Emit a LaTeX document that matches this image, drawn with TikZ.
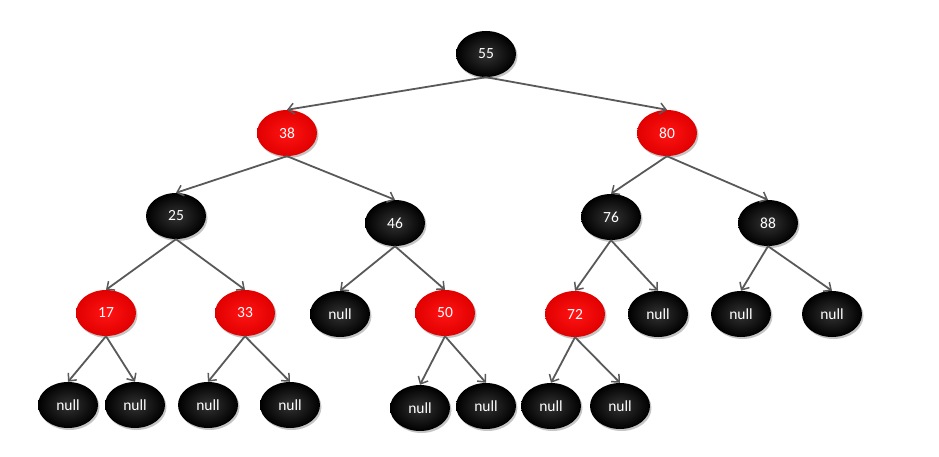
\documentclass[tikz,border=0pt]{standalone}
\usepackage{fontspec}
\setmainfont{Carlito}
\usetikzlibrary{arrows.meta,shapes.geometric,shadows}
\begin{document}
\begin{tikzpicture}[x=1pt,y=-1pt,
  nd/.style={ellipse,minimum width=60pt,minimum height=46pt,inner sep=0pt,
    text=white,font=\fontsize{15.5}{17}\selectfont,
    drop shadow={shadow xshift=1.5pt,shadow yshift=-2pt,fill=black!45,opacity=0.5}},
  bk/.style={nd,shade,inner color=black!80,outer color=black},
  rd/.style={nd,shade,inner color={rgb,255:red,255;green,20;blue,20},outer color={rgb,255:red,225;green,0;blue,0}},
  ed/.style={draw=black!65,line width=1.8pt,-{Straight Barb[length=6pt,width=11pt,line width=1.5pt]}}]
\useasboundingbox (0,0) rectangle (939,457);
% row 0
\node[bk] (n55) at (486,54) {55};
% row 1
\node[rd] (n38) at (287,133) {38};
\node[rd] (n80) at (667,133) {80};
% row 2
\node[bk] (n25) at (176,216) {25};
\node[bk] (n46) at (395,223) {46};
\node[bk] (n76) at (611,217) {76};
\node[bk] (n88) at (768,223) {88};
% row 3
\node[rd] (n17) at (106,313) {17};
\node[rd] (n33) at (245,313) {33};
\node[bk] (z46) at (340,314) {null};
\node[rd] (n50) at (445,313) {50};
\node[rd] (n72) at (575,314) {72};
\node[bk] (z76) at (658,314) {null};
\node[bk] (a88) at (741,314) {null};
\node[bk] (b88) at (832,314) {null};
% row 4
\node[bk] (a17) at (68,405) {null};
\node[bk] (b17) at (135,405) {null};
\node[bk] (a33) at (208,405) {null};
\node[bk] (b33) at (290,405) {null};
\node[bk] (a50) at (420,408) {null};
\node[bk] (b50) at (486,406) {null};
\node[bk] (a72) at (551,406) {null};
\node[bk] (b72) at (620,406) {null};
% edges
\foreach \p/\c in {n55/n38,n55/n80,n38/n25,n38/n46,n80/n76,n80/n88,
  n25/n17,n25/n33,n46/z46,n46/n50,n76/n72,n76/z76,n88/a88,n88/b88,
  n17/a17,n17/b17,n33/a33,n33/b33,n50/a50,n50/b50,n72/a72,n72/b72}
  \draw[ed] (\p.south) -- (\c.north);
\end{tikzpicture}
\end{document}
